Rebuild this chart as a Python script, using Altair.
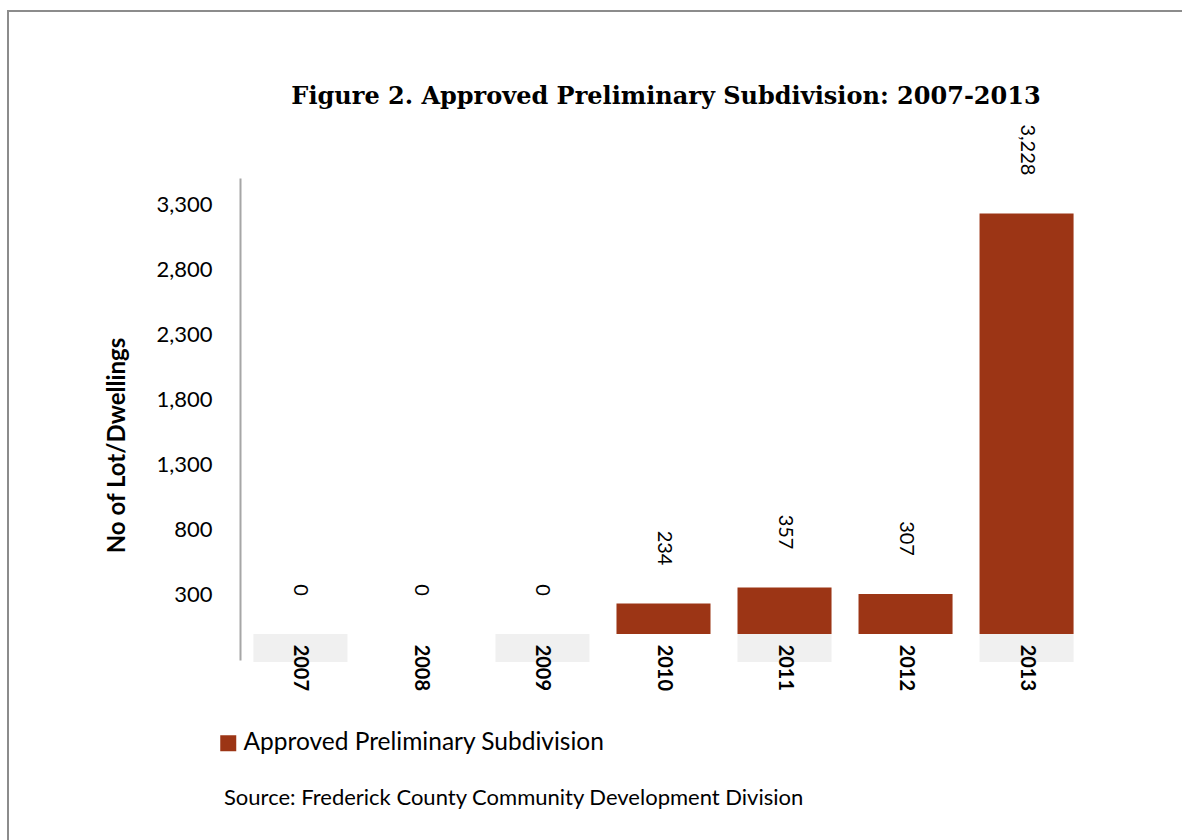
import altair as alt
import pandas as pd

# Approved preliminary subdivision lots/dwellings by year
years = ["2007", "2008", "2009", "2010", "2011", "2012", "2013"]
approved = [0, 0, 0, 234, 357, 307, 3228]
series_name = "Approved Preliminary Subdivision"
y_ticks = [300, 800, 1300, 1800, 2300, 2800, 3300]

BAR_COLOR = "#9C3515"
BAND_GREY = "#F0F0F0"
SANS = "Lato"

df = pd.DataFrame({"year": years, "value": approved, "series": series_name})

W, H = 847, 482
PAD_L, PAD_T = 240, 178

x_enc = alt.X(
    "year:N",
    sort=years,
    scale=alt.Scale(paddingInner=0.223, paddingOuter=0.111),
    axis=None,
)
y_scale = alt.Scale(domain=[-200, 3500], nice=False, zero=False)

base = alt.Chart(df)

# alternating grey bands under every other year label
bands = (
    base.transform_window(idx="row_number()")
    .transform_filter("datum.idx % 2 == 1")
    .mark_rect(color=BAND_GREY, clip=False)
    .encode(
        x=x_enc,
        y=alt.datum(0, scale=y_scale),
        y2=alt.datum(-215),
    )
)

bars = base.mark_bar(clip=False).encode(
    x=x_enc,
    y=alt.Y(
        "value:Q",
        scale=y_scale,
        title="No of Lot/Dwellings",
        axis=alt.Axis(
            values=y_ticks,
            format=",.0f",
            ticks=False,
            grid=False,
            domainColor="#A6A6A6",
            domainWidth=2,
            labelFont=SANS,
            labelFontSize=22,
            labelColor="#000000",
            labelPadding=28,
            titleFont=SANS,
            titleFontSize=24,
            titleFontWeight="bold",
            titleColor="#000000",
            titleAngle=-90,
            titleX=-123,
            titleY=267,
            titleAlign="center",
            titleBaseline="middle",
        ),
    ),
    y2=alt.datum(0),
    color=alt.Color(
        "series:N",
        scale=alt.Scale(range=[BAR_COLOR]),
        legend=alt.Legend(
            orient="none",
            legendX=-24,
            legendY=553,
            title=None,
            symbolType="square",
            symbolSize=256,
            symbolStrokeWidth=0,
            labelFont=SANS,
            labelFontSize=24.5,
            labelColor="#000000",
            labelOffset=3,
            labelLimit=0,
            padding=0,
        ),
    ),
)

value_labels = base.mark_text(
    angle=90, align="right", baseline="middle", dx=-38,
    font=SANS, fontSize=20, color="#000000", clip=False,
).encode(
    x=x_enc,
    y=alt.Y("value:Q", scale=y_scale),
    text=alt.Text("value:Q", format=","),
)

year_labels = base.mark_text(
    angle=90, align="left", baseline="middle",
    font=SANS, fontSize=20, fontWeight="bold", color="#000000", clip=False,
).encode(
    x=x_enc,
    y=alt.datum(-82, scale=y_scale),
    text="year:N",
)

one = alt.Data(values=[{}])

title = alt.Chart(one).mark_text(
    text="Figure 2. Approved Preliminary Subdivision: 2007-2013",
    font="DejaVu Serif", fontSize=24, fontWeight="bold", color="#000000",
    align="center", baseline="alphabetic",
).encode(x=alt.value(426), y=alt.value(-74))

source = alt.Chart(one).mark_text(
    text="Source: Frederick County Community Development Division",
    font=SANS, fontSize=22, color="#000000",
    align="left", baseline="middle",
).encode(x=alt.value(-16), y=alt.value(620))

frame = alt.Chart(one).mark_rect(
    fill="transparent", stroke="#8C8C8C", strokeWidth=2,
).encode(
    x=alt.value(-232), y=alt.value(-167),
    x2=alt.value(1100), y2=alt.value(800),
)

chart = (
    alt.layer(frame, bands, bars, value_labels, year_labels, title, source)
    .properties(
        width=W,
        height=H,
        autosize=alt.AutoSizeParams(type="none"),
        padding={"left": PAD_L, "top": PAD_T,
                 "right": 1182 - PAD_L - W, "bottom": 840 - PAD_T - H},
        background="#FFFFFF",
    )
    .configure_view(stroke=None)
)

chart.save("out.html", embed_options={"renderer": "svg", "actions": False})
